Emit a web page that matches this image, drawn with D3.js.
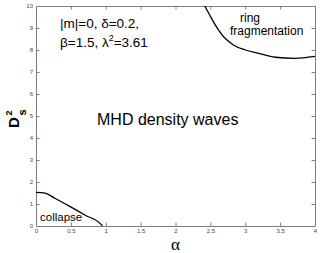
<!DOCTYPE html>
<html><head><meta charset="utf-8">
<script src="https://cdn.jsdelivr.net/npm/d3@7"></script>
<style>body{margin:0;background:#fff}svg{display:block}</style>
</head><body>
<script>
const xTicks = [0, 0.5, 1, 1.5, 2, 2.5, 3, 3.5, 4];
const xTickLabels = ["0", "0.5", "1", "1.5", "2", "2.5", "3", "3.5", "4"];
const yTicks = [0, 1, 2, 3, 4, 5, 6, 7, 8, 9, 10];
const collapseAlpha = [0, 0.13, 0.27, 0.49, 0.70, 0.94, 0.95];
const collapseD =     [1.53, 1.49, 1.26, 0.88, 0.50, 0.05, 0.0];
const ringAlpha = [2.42, 2.49, 2.57, 2.69, 2.83, 3.0, 3.19, 3.43, 3.71, 4.0];
const ringD =     [10, 9.59, 9.14, 8.6, 8.23, 8.0, 7.85, 7.67, 7.62, 7.71];

const W = 320, H = 253;
const m = {l: 36, r: 5, t: 6, b: 27};
const svg = d3.select("body").append("svg").attr("width", W).attr("height", H)
  .style("font-family", "'Liberation Sans', Arial, sans-serif");
const x = d3.scaleLinear().domain([0, 4]).range([m.l, W - m.r]);
const y = d3.scaleLinear().domain([0, 10]).range([H - m.b, m.t]);
const frame = "#7d7d7d";

// axes
const tl = 3.5;
const gx = svg.append("g").attr("transform", `translate(0,${y(0)})`)
  .call(d3.axisBottom(x).tickValues(xTicks).tickFormat((d, i) => xTickLabels[i]).tickSizeInner(-tl).tickSizeOuter(0).tickPadding(3));
const gxt = svg.append("g").attr("transform", `translate(0,${y(10)})`)
  .call(d3.axisTop(x).tickValues(xTicks).tickFormat("").tickSizeInner(-tl).tickSizeOuter(0));
const gy = svg.append("g").attr("transform", `translate(${x(0)},0)`)
  .call(d3.axisLeft(y).tickValues(yTicks).tickSizeInner(-tl).tickSizeOuter(0).tickPadding(3));
const gyr = svg.append("g").attr("transform", `translate(${x(4)},0)`)
  .call(d3.axisRight(y).tickValues(yTicks).tickFormat("").tickSizeInner(-tl).tickSizeOuter(0));
[gx, gxt, gy, gyr].forEach(g => {
  g.selectAll("path,line").attr("stroke", frame).attr("stroke-width", 1);
  g.selectAll("text").attr("fill", "#444").style("font-size", "6px").style("font-family", "'Liberation Sans', Arial, sans-serif");
});

// curves
const clip = svg.append("clipPath").attr("id", "c").append("rect")
  .attr("x", x(0)).attr("y", y(10)).attr("width", x(4) - x(0)).attr("height", y(0) - y(10));
const line = d3.line().x(d => x(d[0])).y(d => y(d[1])).curve(d3.curveMonotoneX);
svg.append("path").attr("clip-path", "url(#c)")
  .attr("d", line(collapseAlpha.map((a, i) => [a, collapseD[i]])))
  .attr("fill", "none").attr("stroke", "#000").attr("stroke-width", 1.3);
svg.append("path").attr("clip-path", "url(#c)")
  .attr("d", line(ringAlpha.map((a, i) => [a, ringD[i]])))
  .attr("fill", "none").attr("stroke", "#000").attr("stroke-width", 1.3);

// annotations
svg.append("text").attr("x", 60).attr("y", 28).style("font-size", "13.5px").text("|m|=0, δ=0.2,");
const t2 = svg.append("text").attr("x", 60).attr("y", 47).style("font-size", "13.5px");
t2.append("tspan").text("β=1.5, λ");
t2.append("tspan").attr("dy", -6).style("font-size", "9px").text("2");
t2.append("tspan").attr("dy", 6).text("=3.61");
svg.append("text").attr("x", 97).attr("y", 125).style("font-size", "16px").text("MHD density waves");
svg.append("text").attr("x", 240).attr("y", 22).style("font-size", "12px").text("ring");
svg.append("text").attr("x", 230).attr("y", 35).style("font-size", "12px").text("fragmentation");
svg.append("text").attr("x", 40).attr("y", 221).style("font-size", "11.5px").text("collapse");

// axis labels
svg.append("text").attr("x", x(2)).attr("y", 250).attr("text-anchor", "middle")
  .style("font-size", "17px").style("font-family", "'Liberation Serif', serif").text("α");
const yl = svg.append("g").attr("transform", "translate(19,128) rotate(-90)");
yl.append("text").attr("x", 0).attr("y", 0).style("font-size", "15px").style("font-weight", "bold").text("D");
yl.append("text").attr("x", 12.5).attr("y", -7).style("font-size", "9px").style("font-weight", "bold").text("2");
yl.append("text").attr("x", 12.5).attr("y", 7).style("font-size", "11px").style("font-weight", "bold").text("s");
</script>
</body></html>
